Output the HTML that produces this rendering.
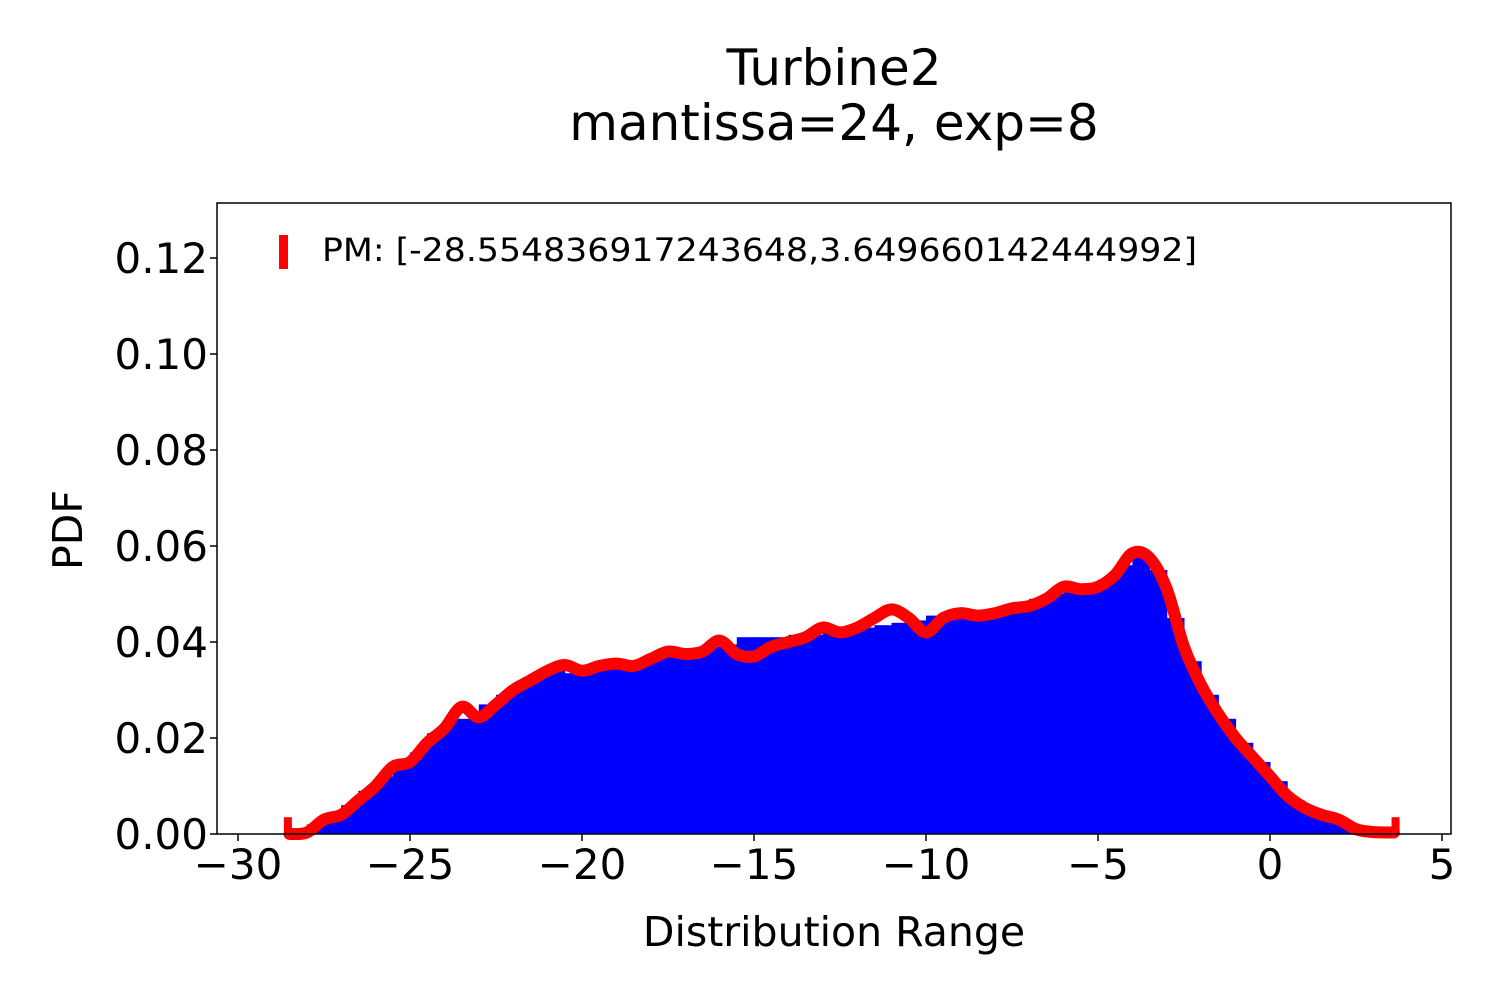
<!DOCTYPE html>
<html><head><meta charset="utf-8"><style>
html,body{margin:0;padding:0;background:#fff;}
svg{display:block;font-family:"DejaVu Sans","Liberation Sans",sans-serif;}
</style></head><body>
<svg id="chart" width="1500" height="1000" viewBox="0 0 1500 1000">
<text x="834" y="85" font-size="50" text-anchor="middle">Turbine2</text>
<text x="834" y="140" font-size="50" text-anchor="middle">mantissa=24, exp=8</text>
<g id="hist"></g>
<g id="curve"></g>
<rect x="217" y="203" width="1234" height="631" fill="none" stroke="#000" stroke-width="1.5"/>
<g id="xticks"></g>
<g id="yticks"></g>
<text x="834" y="946" font-size="41" text-anchor="middle">Distribution Range</text>
<text x="0" y="0" font-size="41" text-anchor="middle" transform="translate(82,530) rotate(-90)">PDF</text>
<g>
<rect x="279" y="235" width="9" height="34" fill="#ff0000"/>
<text x="322" y="261" font-size="32" textLength="875" lengthAdjust="spacingAndGlyphs">PM: [-28.554836917243648,3.649660142444992]</text>
</g>
</svg>
<script>
const xTicks = [-30,-25,-20,-15,-10,-5,0,5];
const yTicks = [0,0.02,0.04,0.06,0.08,0.10,0.12];
const yTickLabels = ["0.00","0.02","0.04","0.06","0.08","0.10","0.12"];
const histStart = -28.5;
const histWidth = 0.5;
const histValues = [0.0005,0.002,0.004,0.006,0.009,0.012,0.014,0.017,0.021,0.024,0.024,0.027,0.029,0.031,0.033,0.034,0.0335,0.0345,0.035,0.0345,0.036,0.0375,0.0385,0.0385,0.039,0.0395,0.041,0.041,0.041,0.0415,0.0415,0.0425,0.0425,0.043,0.0435,0.044,0.0445,0.0455,0.0455,0.046,0.046,0.047,0.048,0.049,0.050,0.051,0.052,0.053,0.056,0.059,0.055,0.045,0.036,0.029,0.024,0.019,0.015,0.011,0.007,0.005,0.004,0.002,0.001,0.0005];
const curveX = [-28.5,-28,-27.5,-27,-26.5,-26,-25.5,-25,-24.5,-24,-23.5,-23,-22.5,-22,-21.5,-21,-20.5,-20,-19.5,-19,-18.5,-18,-17.5,-17,-16.5,-16,-15.5,-15,-14.5,-14,-13.5,-13,-12.5,-12,-11.5,-11,-10.5,-10,-9.5,-9,-8.5,-8,-7.5,-7,-6.5,-6,-5.5,-5,-4.5,-4,-3.5,-3,-2.5,-2,-1.5,-1,-0.5,0,0.5,1,1.5,2,2.5,3,3.6];
const curveY = [0,0.0003,0.003,0.004,0.007,0.010,0.014,0.015,0.019,0.022,0.0265,0.0243,0.027,0.030,0.032,0.034,0.0352,0.034,0.035,0.0355,0.035,0.0365,0.038,0.0375,0.038,0.0403,0.0375,0.037,0.039,0.040,0.041,0.043,0.042,0.043,0.045,0.0468,0.045,0.042,0.045,0.046,0.0455,0.046,0.047,0.0475,0.049,0.0515,0.051,0.0515,0.054,0.0585,0.0575,0.051,0.039,0.031,0.025,0.020,0.016,0.012,0.008,0.0055,0.004,0.003,0.001,0.0004,0.0003];
const endMarks = [-28.55, 3.65];
const NS="http://www.w3.org/2000/svg";
const X0=217,X1=1451,Y0=834,Y1=203;
function xs(v){return 1270+v*34.4;}
function ys(v){return 834-v*4800;}
function mk(tag,attrs,parent){const e=document.createElementNS(NS,tag);for(const k in attrs)e.setAttribute(k,attrs[k]);parent.appendChild(e);return e;}
const hist=document.getElementById('hist');
histValues.forEach((v,i)=>{
  const a=histStart+i*histWidth;
  const r=mk('rect',{x:xs(a),y:ys(v),width:xs(a+histWidth)-xs(a)+0.5,height:Y0-ys(v),fill:'#0000ff'},hist);
  
  
});
const cg=document.getElementById('curve');
const pts=curveX.map((x,i)=>[xs(x),ys(curveY[i])]);
let d='M'+pts[0][0]+','+pts[0][1];
for(let i=0;i<pts.length-1;i++){
  const p0=pts[Math.max(0,i-1)],p1=pts[i],p2=pts[i+1],p3=pts[Math.min(pts.length-1,i+2)];
  const c1=[p1[0]+(p2[0]-p0[0])/6,p1[1]+(p2[1]-p0[1])/6];
  const c2=[p2[0]-(p3[0]-p1[0])/6,p2[1]-(p3[1]-p1[1])/6];
  d+=' C'+c1[0]+','+c1[1]+' '+c2[0]+','+c2[1]+' '+p2[0]+','+p2[1];
}
const path=mk('path',{d:d,fill:'none',stroke:'#ff0000','stroke-width':12,'stroke-linejoin':'round','stroke-linecap':'round'},cg);


endMarks.forEach(v=>{
  const r=mk('rect',{x:xs(v)-4,y:ys(0.0035),width:8,height:Y0-ys(0.0035),fill:'#ff0000'},cg);
  
  
});
const xg=document.getElementById('xticks');
xTicks.forEach(t=>{
  const x=xs(t);
  const l=mk('line',{x1:x,x2:x,y1:Y0,y2:Y0+7,stroke:'#000','stroke-width':1.5},xg);
  
  
  const tx=mk('text',{x:x,y:879,'font-size':42,'text-anchor':'middle'},xg);
  tx.textContent=(t<0?'\u2212'+Math.abs(t):String(t));
  
  
});
const yg=document.getElementById('yticks');
yTicks.forEach((t,i)=>{
  const y=ys(t);
  const l=mk('line',{x1:X0-7,x2:X0,y1:y,y2:y,stroke:'#000','stroke-width':1.5},yg);
  
  
  const tx=mk('text',{x:208,y:y+15,'font-size':42,'text-anchor':'end'},yg);
  tx.textContent=yTickLabels[i];
  
  
});
</script>
</body></html>
